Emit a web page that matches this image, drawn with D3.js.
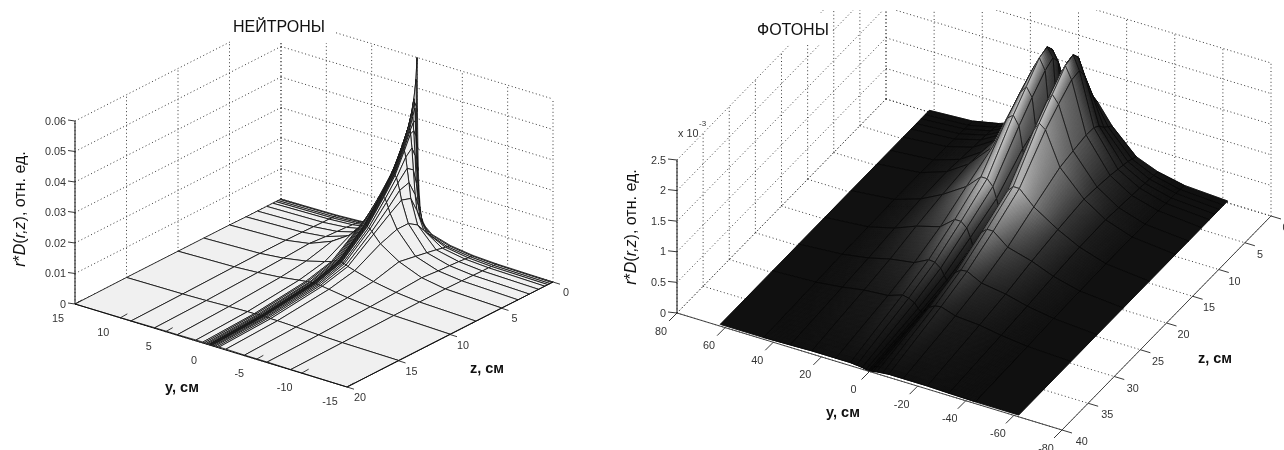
<!DOCTYPE html>
<html>
<head>
<meta charset="utf-8">
<script src="https://d3js.org/d3.v7.min.js"></script>
<style>
  html, body { margin: 0; padding: 0; background: #fff; }
  svg { display: block; filter: blur(0.45px); }
  text { font-family: "Liberation Sans", Arial, sans-serif; fill: #333; }
  .axlab { fill: #111; font-weight: bold; font-size: 14.5px; }
  .title { fill: #111; font-size: 16px; }
  .tick { font-size: 10.8px; text-anchor: middle; }
</style>
</head>
<body>
<svg id="viz" width="1284" height="450"></svg>
<script>
// neutrons: values in 1e-4, rows follow neutronZ, columns follow neutronY
var neutronY = [15, 8.8, 6.2, 3.7, 1.65, 0.9, 0.7, 0.5, 0.35, 0.2, 0.15, 0.1, 0.05, 0, -0.05, -0.1, -0.15, -0.2, -0.35, -0.5, -0.7, -0.9, -1.65, -3.7, -6.2, -8.8, -15];
var neutronZ = [0, 0.1, 0.3, 0.5, 0.8, 1.4, 2.3, 3.4, 5, 7.5, 10, 15, 20];
var neutronD = [
  [0,3,7,17,35,55,65,80,110,180,230,300,420,600,420,300,230,180,110,80,65,55,35,17,7,3,0],
  [0,3,7,17,36,58,70,85,120,190,250,320,440,530,440,320,250,190,120,85,70,58,36,17,7,3,0],
  [0,3,8,18,40,75,105,150,230,350,400,440,460,470,460,440,400,350,230,150,105,75,40,18,8,3,0],
  [0,3,8,20,48,90,130,200,290,370,395,415,425,430,425,415,395,370,290,200,130,90,48,20,8,3,0],
  [0,4,9,22,62,120,170,250,320,365,375,380,385,390,385,380,375,365,320,250,170,120,62,22,9,4,0],
  [0,4,11,27,90,170,220,265,300,320,325,328,329,330,329,328,325,320,300,265,220,170,90,27,11,4,0],
  [0,5,13,33,110,180,210,232,248,255,257,258,259,260,259,258,257,255,248,232,210,180,110,33,13,5,0],
  [0,6,15,40,110,155,172,188,198,202,203,204,205,205,205,204,203,202,198,188,172,155,110,40,15,6,0],
  [1,7,20,50,90,115,122,128,131,133,133,134,135,135,135,134,133,133,131,128,122,115,90,50,20,7,1],
  [1,7,15,28,45,52,55,57,58,59,59,60,60,60,60,60,59,59,58,57,55,52,45,28,15,7,1],
  [1,6,11,18,27,30,31,31,32,32,32,33,33,33,33,33,32,32,32,31,31,30,27,18,11,6,1],
  [1,3,5,8,10,10,11,11,11,11,11,11,11,11,11,11,11,11,11,11,11,10,10,8,5,3,1],
  [0,1,2,2,3,3,3,3,3,3,3,3,3,3,3,3,3,3,3,3,3,3,3,2,2,1,0]
];
var neutronYTicks = [15, 10, 5, 0, -5, -10, -15];
var neutronZTicks = [0, 5, 10, 15, 20];
var neutronVTicks = [0, 100, 200, 300, 400, 500, 600];
var neutronVLabels = ["0", "0.01", "0.02", "0.03", "0.04", "0.05", "0.06"];

// photons: values in 1e-5, rows follow photonZ, columns follow photonY
var photonY = [62, 44, 33, 24, 14, 8, 5.4, 3, 1.5, 0.5, 0, -0.5, -1.5, -3, -5.4, -8, -14, -24, -33, -44, -62];
var photonZ = [0, 0.8, 1.6, 2.5, 3.5, 5, 7.5, 10, 15, 20, 25, 30, 40];
var photonD = [
  [3,7,16,30,68,100,110,92,65,52,45,52,65,92,110,100,68,30,16,7,3],
  [3,7,17,33,74,115,130,112,78,58,50,58,78,112,130,115,74,33,17,7,3],
  [3,8,18,36,80,138,160,140,90,65,55,65,90,140,160,138,80,36,18,8,3],
  [3,8,19,38,90,165,192,175,105,72,60,72,105,175,192,165,90,38,19,8,3],
  [3,8,20,40,96,182,205,190,118,78,65,78,118,190,205,182,96,40,20,8,3],
  [3,9,21,43,97,180,200,182,122,82,68,82,122,182,200,180,97,43,21,9,3],
  [3,9,23,46,93,162,175,160,112,78,66,78,112,160,175,162,93,46,23,9,3],
  [3,10,25,48,88,142,150,135,100,70,60,70,100,135,150,142,88,48,25,10,3],
  [3,10,24,42,67,90,90,80,62,48,40,48,62,80,90,90,67,42,24,10,3],
  [3,9,20,34,45,64,64,56,42,30,25,30,42,56,64,64,45,34,20,9,3],
  [3,8,15,24,30,42,41,34,24,17,14,17,24,34,41,42,30,24,15,8,3],
  [3,6,11,17,20,28,26,21,14,10,8,10,14,21,26,28,20,17,11,6,3],
  [3,3,4,5,5,5,4,3,1.5,0.5,0,0.5,1.5,3,4,5,5,5,4,3,3]
];
var photonYTicks = [80, 60, 40, 20, 0, -20, -40, -60, -80];
var photonZTicks = [0, 5, 10, 15, 20, 25, 30, 35, 40];
var photonVTicks = [0, 50, 100, 150, 200, 250];
var photonVLabels = ["0", "0.5", "1", "1.5", "2", "2.5"];

var svg = d3.select("#viz");
var polygon = d3.line().x(function(p){ return p[0]; }).y(function(p){ return p[1]; });

function makePanel(o){
    // a 3d box seen from a fixed corner, three linear scales add up to a screen point
    var p = o;
    p.yx = d3.scaleLinear().domain(o.yDomain).range([0, o.ySpan[0]]);
    p.yy = d3.scaleLinear().domain(o.yDomain).range([0, o.ySpan[1]]);
    p.zx = d3.scaleLinear().domain(o.zDomain).range([0, o.zSpan[0]]);
    p.zy = d3.scaleLinear().domain(o.zDomain).range([0, o.zSpan[1]]);
    p.vy = d3.scaleLinear().domain(o.vDomain).range([0, -o.vSpan]);
    p.pt = function(y, z, v){
        return [o.origin[0] + p.yx(y) + p.zx(z), o.origin[1] + p.yy(y) + p.zy(z) + p.vy(v)];
    };
    p.g = svg.append("g");
    if (o.clipTop !== undefined){
        var id = "clip" + o.name;
        svg.append("clipPath").attr("id", id).append("rect")
            .attr("x", 0).attr("y", o.clipTop).attr("width", 1284).attr("height", 450);
        p.g.attr("clip-path", "url(#" + id + ")");
    }
    return p;
}

function seg(g, a, b, stroke, width, dash){
    var l = g.append("line")
        .attr("x1", a[0]).attr("y1", a[1]).attr("x2", b[0]).attr("y2", b[1])
        .attr("stroke", stroke).attr("stroke-width", width);
    if (dash) l.attr("stroke-dasharray", dash);
}

function drawWalls(p){
    var y0 = p.yDomain[0], y1 = p.yDomain[1], z0 = p.zDomain[0], z1 = p.zDomain[1], vTop = p.vDomain[1];
    var dash = "1 2.6", col = "#222";
    p.vTicks.forEach(function(v){
        seg(p.g, p.pt(y0, z1, v), p.pt(y0, z0, v), col, 0.9, dash);
        seg(p.g, p.pt(y0, z0, v), p.pt(y1, z0, v), col, 0.9, dash);
    });
    p.zTicks.forEach(function(z){
        seg(p.g, p.pt(y0, z, 0), p.pt(y0, z, vTop), col, 0.9, dash);
        seg(p.g, p.pt(y0, z, 0), p.pt(y1, z, 0), col, 0.9, dash);
    });
    p.yTicks.forEach(function(y){
        seg(p.g, p.pt(y, z0, 0), p.pt(y, z0, vTop), col, 0.9, dash);
        seg(p.g, p.pt(y, z0, 0), p.pt(y, z1, 0), col, 0.9, dash);
    });
}

function drawAxes(p){
    var y0 = p.yDomain[0], y1 = p.yDomain[1], z1 = p.zDomain[1], z0 = p.zDomain[0];
    seg(svg, p.pt(y0, z1, 0), p.pt(y0, z1, p.vDomain[1]), "#111", 1);
    seg(svg, p.pt(y0, z1, 0), p.pt(y1, z1, 0), p.edgeColor, 1);
    seg(svg, p.pt(y1, z1, 0), p.pt(y1, z0, 0), p.edgeColor, 1);
    p.vTicks.forEach(function(v, i){
        var a = p.pt(y0, z1, v);
        seg(svg, a, [a[0] - p.vTickLen, a[1] - 1], "#222", 0.9);
        svg.append("text").attr("class", "tick").style("text-anchor", "end")
            .attr("x", a[0] - p.vTickLen - 2).attr("y", a[1] + 3.5).text(p.vLabels[i]);
    });
    p.yTicks.forEach(function(y){
        var a = p.pt(y, z1, 0);
        seg(svg, a, [a[0] + p.yTick[0], a[1] + p.yTick[1]], "#222", 0.9);
        svg.append("text").attr("class", "tick")
            .attr("x", a[0] + p.yLabel[0]).attr("y", a[1] + p.yLabel[1] + 4).text(y);
    });
    p.zTicks.forEach(function(z){
        var a = p.pt(y1, z, 0);
        seg(svg, a, [a[0] + p.zTick[0], a[1] + p.zTick[1]], "#222", 0.9);
        svg.append("text").attr("class", "tick")
            .attr("x", a[0] + p.zLabel[0] + p.zLabelDrift * z).attr("y", a[1] + p.zLabel[1] + 4).text(z);
    });
}

function drawNeutronSurface(p){
    for (var i = 0; i < p.zs.length - 1; i++){
        for (var j = 0; j < p.ys.length - 1; j++){
            var q = [p.pt(p.ys[j], p.zs[i], p.d[i][j]), p.pt(p.ys[j+1], p.zs[i], p.d[i][j+1]),
                     p.pt(p.ys[j+1], p.zs[i+1], p.d[i+1][j+1]), p.pt(p.ys[j], p.zs[i+1], p.d[i+1][j])];
            p.g.append("path").attr("d", polygon(q) + "Z")
                .attr("fill", "#f0f0f0").attr("stroke", "#111").attr("stroke-width", 0.85);
        }
    }
}

// brightness at every grid node from height and from a low light in front of the box
function photonShade(p){
    var light = [-0.1, 0.9, 0.3];
    var pxY = 2.5, pxZ = 7.5, pxV = p.vSpan / p.vDomain[1];
    var ny = p.ys.length, nz = p.zs.length;
    return p.zs.map(function(z, i){
        return p.ys.map(function(y, j){
            var a = Math.max(j - 1, 0), b = Math.min(j + 1, ny - 1);
            var c = Math.max(i - 1, 0), e = Math.min(i + 1, nz - 1);
            var gy = pxV * (p.d[i][b] - p.d[i][a]) / (pxY * (p.ys[b] - p.ys[a]));
            var gz = pxV * (p.d[e][j] - p.d[c][j]) / (pxZ * (p.zs[e] - p.zs[c]));
            var len = Math.sqrt(gy * gy + gz * gz + 1);
            var nl = Math.max(0, (-gy * light[0] - gz * light[1] + light[2]) / len);
            var lift = Math.pow(Math.min(1, p.d[i][j] / 75), 1.6);
            return 0.06 + lift * (0.05 + 0.85 * nl);
        });
    });
}

function grey(g){
    var c = Math.round(Math.min(1, g) * 255);
    return d3.rgb(c, c, c).toString();
}

function drawPhotonSurface(p){
    var shade = photonShade(p);
    for (var i = 0; i < p.zs.length - 1; i++){
        for (var j = 0; j < p.ys.length - 1; j++){
            var q = [p.pt(p.ys[j], p.zs[i], p.d[i][j]), p.pt(p.ys[j+1], p.zs[i], p.d[i][j+1]),
                     p.pt(p.ys[j+1], p.zs[i+1], p.d[i+1][j+1]), p.pt(p.ys[j], p.zs[i+1], p.d[i+1][j])];
            var s = [shade[i][j], shade[i][j+1], shade[i+1][j+1], shade[i+1][j]];
            var span = Math.max(Math.abs(q[0][0]-q[2][0]), Math.abs(q[0][1]-q[2][1]), Math.abs(q[1][0]-q[3][0]), Math.abs(q[1][1]-q[3][1]));
            var n = (d3.max(s) - d3.min(s) < 0.012) ? 1 : Math.min(14, Math.ceil(span / 4));
            // the whole cell first, so no white shows through between the small pieces
            var mean = grey(d3.mean(s));
            p.g.append("path").attr("d", polygon(q) + "Z")
                .attr("fill", mean).attr("stroke", mean).attr("stroke-width", 0.6);
            if (n > 1){
                for (var a = 0; a < n; a++){
                    for (var b = 0; b < n; b++){
                        var sub = [[a/n, b/n], [(a+1)/n, b/n], [(a+1)/n, (b+1)/n], [a/n, (b+1)/n]].map(function(t){
                            var u = t[0], w = t[1];
                            return [
                                (1-u)*(1-w)*q[0][0] + u*(1-w)*q[1][0] + u*w*q[2][0] + (1-u)*w*q[3][0],
                                (1-u)*(1-w)*q[0][1] + u*(1-w)*q[1][1] + u*w*q[2][1] + (1-u)*w*q[3][1]
                            ];
                        });
                        var u = (a+0.5)/n, w = (b+0.5)/n;
                        var col = grey((1-u)*(1-w)*s[0] + u*(1-w)*s[1] + u*w*s[2] + (1-u)*w*s[3]);
                        p.g.append("path").attr("d", polygon(sub) + "Z")
                            .attr("fill", col).attr("stroke", col).attr("stroke-width", 0.6);
                    }
                }
            }
            p.g.append("path").attr("d", polygon(q) + "Z")
                .attr("fill", "none").attr("stroke", "#050505").attr("stroke-width", 0.75);
        }
    }
}

function zLabel(x, y){
    var t = svg.append("text").attr("class", "axlab").style("font-weight", "normal").style("font-size", "16px")
        .attr("text-anchor", "middle").attr("transform", "translate(" + x + "," + y + ") rotate(-90)");
    t.append("tspan").style("font-style", "italic").text("r");
    t.append("tspan").text("*");
    t.append("tspan").style("font-style", "italic").text("D");
    t.append("tspan").text("(");
    t.append("tspan").style("font-style", "italic").text("r,z");
    t.append("tspan").text("), отн. ед.");
}

var left = makePanel({
    name: "n", origin: [281, 199], yDomain: [15, -15], ySpan: [272, 83], zDomain: [0, 20], zSpan: [-206, 105],
    vDomain: [0, 600], vSpan: 183, ys: neutronY, zs: neutronZ, d: neutronD, edgeColor: "#111",
    yTicks: neutronYTicks, zTicks: neutronZTicks, vTicks: neutronVTicks, vLabels: neutronVLabels,
    vTickLen: 7, yTick: [7, -4], zTick: [7, 2.2], yLabel: [-17, 14], zLabel: [13, 10], zLabelDrift: 0
});

var right = makePanel({
    name: "p", origin: [886, 99], yDomain: [80, -80], ySpan: [385, 117], zDomain: [0, 40], zSpan: [-209, 214],
    vDomain: [0, 250], vSpan: 153, ys: photonY, zs: photonZ, d: photonD, clipTop: 10, edgeColor: "#444",
    yTicks: photonYTicks, zTicks: photonZTicks, vTicks: photonVTicks, vLabels: photonVLabels,
    vTickLen: 9, yTick: [-8, 8], zTick: [10, 3], yLabel: [-16, 17.5], zLabel: [14.5, 11], zLabelDrift: 0.13
});

drawWalls(left);
drawNeutronSurface(left);
drawAxes(left);

drawWalls(right);
drawPhotonSurface(right);
drawAxes(right);

// the titles sit on their own white boxes over the grid
svg.append("rect").attr("x", 231).attr("y", 0).attr("width", 105).attr("height", 43).attr("fill", "#fff");
svg.append("text").attr("class", "title").attr("x", 233).attr("y", 32).text("НЕЙТРОНЫ");
svg.append("rect").attr("x", 756).attr("y", 13).attr("width", 76).attr("height", 32).attr("fill", "#fff");
svg.append("text").attr("class", "title").attr("x", 757).attr("y", 35).text("ФОТОНЫ");

svg.append("text").attr("class", "axlab").attr("text-anchor", "middle").attr("x", 182).attr("y", 392).text("y, см");
svg.append("text").attr("class", "axlab").attr("text-anchor", "middle").attr("x", 487).attr("y", 373).text("z, см");
svg.append("text").attr("class", "axlab").attr("text-anchor", "middle").attr("x", 843).attr("y", 417).text("y, см");
svg.append("text").attr("class", "axlab").attr("text-anchor", "middle").attr("x", 1215).attr("y", 363).text("z, см");
zLabel(25, 209);
zLabel(636, 227);

var mult = svg.append("text").style("font-size", "10.8px").attr("x", 678).attr("y", 137);
mult.append("tspan").text("x 10");
svg.append("text").style("font-size", "8px").attr("x", 699).attr("y", 126).text("-3");
</script>
</body>
</html>
